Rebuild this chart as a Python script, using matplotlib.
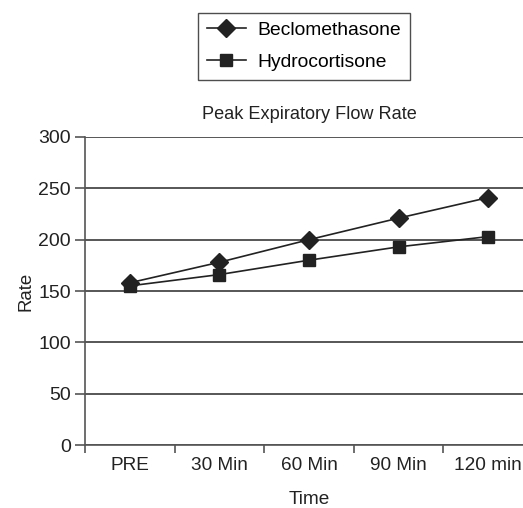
import numpy as np
import matplotlib.pyplot as plt
from matplotlib.ticker import FixedLocator, NullFormatter

plt.rcParams['font.family'] = ['Liberation Sans', 'DejaVu Sans']

times = ['PRE', '30 Min', '60 Min', '90 Min', '120 min']
beclomethasone = [158, 178, 200, 221, 241]
hydrocortisone = [155, 166, 180, 193, 203]

W, H = 523, 508
fig = plt.figure(figsize=(W / 100, H / 100), dpi=100)
ax = fig.add_axes([85 / W, 63 / H, 448 / W, 308 / H])

x = np.arange(len(times))
ink = '#222222'
ax.plot(x, beclomethasone, color=ink, lw=1.2, marker='D', ms=9.3,
        mfc=ink, mec=ink, label='Beclomethasone', zorder=3)
ax.plot(x, hydrocortisone, color=ink, lw=1.2, marker='s', ms=8.6,
        mfc=ink, mec=ink, label='Hydrocortisone', zorder=3)

ax.set_ylim(0, 300)
ax.set_yticks(np.arange(0, 301, 50))
ax.set_xlim(-0.5, len(times) - 0.5)
ax.set_xticks(x)
ax.set_xticklabels(times)
ax.xaxis.set_minor_locator(FixedLocator(np.arange(-0.5, len(times), 1.0)))
ax.xaxis.set_minor_formatter(NullFormatter())
ax.tick_params(axis='x', which='major', length=0, pad=9, labelsize=13.7, colors='#222222')
ax.tick_params(axis='x', which='minor', length=6, width=1.2, color='#555555')
ax.tick_params(axis='y', length=7, width=1.2, color='#555555', labelsize=14,
               labelcolor='#222222', pad=3)

ax.grid(axis='y', color='#3a3a3a', lw=1.2)
ax.set_axisbelow(True)
for side in ['top', 'right']:
    ax.spines[side].set_visible(False)
for side in ['left', 'bottom']:
    ax.spines[side].set_color('#555555')
    ax.spines[side].set_linewidth(1.2)

ax.set_title('Peak Expiratory Flow Rate', fontsize=13.1, color='#222222', pad=13)
ax.set_ylabel('Rate', fontsize=13.4, color='#222222', labelpad=3)
ax.set_xlabel('Time', fontsize=13.7, color='#222222', labelpad=12)

leg = fig.legend(loc='upper center', bbox_to_anchor=(304 / W, 1 - 13 / H),
                 fontsize=13.9, frameon=True, fancybox=False, edgecolor='#222222',
                 handlelength=2.0, handletextpad=0.6, borderpad=0.45,
                 labelspacing=0.75, borderaxespad=0)
leg.get_frame().set_linewidth(1.0)

fig.savefig('out.png', dpi=100)
